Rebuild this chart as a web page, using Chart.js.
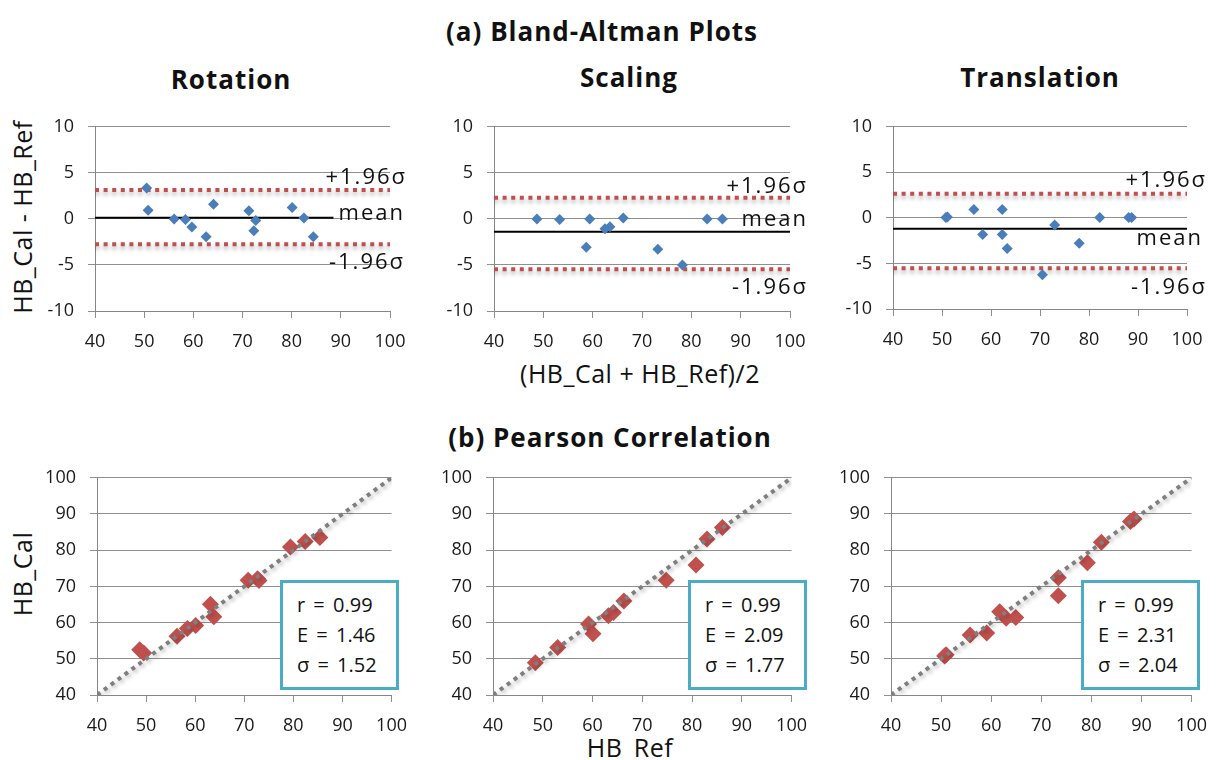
<!DOCTYPE html>
<html>
<head>
<meta charset="utf-8">
<title>HB agreement</title>
<script src="https://cdn.jsdelivr.net/npm/chart.js@4.4.1/dist/chart.umd.min.js"></script>
<style>
  body { margin: 0; width: 1220px; height: 760px; background: #fff; position: relative; overflow: hidden;
         font-family: "Open Sans", "Noto Sans", sans-serif; color: #111; }
  canvas { position: absolute; }
  .txt { position: absolute; transform: translate(-50%, -50%); white-space: nowrap; line-height: 1;
         font-size: 25px; letter-spacing: 0.5px; }
  .bold { font-weight: bold; font-size: 26px; letter-spacing: 1px; }
  .rot { transform: translate(-50%, -50%) rotate(-90deg); }
  .clip { position: absolute; overflow: hidden; }
  .clip div { text-align: center; font-size: 25px; line-height: 25px; letter-spacing: 0.5px; white-space: nowrap; }
  .stats { position: absolute; box-sizing: border-box; width: 119px; height: 110px; border: 3px solid #4bacc6;
           background: #fff; padding: 7px 0 0 14px; font-size: 20px; line-height: 30px; word-spacing: 3px; }
</style>
</head>
<body>

<div class="txt bold" style="left:602px; top:31px">(a) Bland-Altman Plots</div>
<div class="txt bold" style="left:231px; top:79px">Rotation</div>
<div class="txt bold" style="left:629px; top:77px">Scaling</div>
<div class="txt bold" style="left:1040px; top:77px">Translation</div>
<div class="txt rot" style="left:22px; top:217px">HB_Cal - HB_Ref</div>
<div class="txt" style="left:640px; top:373px">(HB_Cal + HB_Ref)/2</div>

<div class="txt bold" style="left:610px; top:437px">(b) Pearson Correlation</div>
<div class="txt rot" style="left:22px; top:574px">HB_Cal</div>
<!-- bottom axis title runs off the page edge, the underscore falls below the cut -->
<div class="clip" style="left:560px; top:735px; width:140px; height:22px"><div>HB_Ref</div></div>

<canvas id="ba1" width="390" height="258" style="left:30px; top:102px"></canvas>
<canvas id="ba2" width="395" height="258" style="left:425px; top:102px"></canvas>
<canvas id="ba3" width="395" height="258" style="left:825px; top:102px"></canvas>
<canvas id="pc1" width="390" height="292" style="left:30px; top:453px"></canvas>
<canvas id="pc2" width="395" height="292" style="left:425px; top:453px"></canvas>
<canvas id="pc3" width="395" height="292" style="left:825px; top:453px"></canvas>

<div class="stats" id="st1" style="left:280px; top:580px"></div>
<div class="stats" id="st2" style="left:688px; top:580px"></div>
<div class="stats" id="st3" style="left:1081px; top:580px"></div>

<script>
// axis ticks
const hbTicks = [40, 50, 60, 70, 80, 90, 100];
const diffTicks = [-10, -5, 0, 5, 10];

// Bland-Altman: average of the two readings and their difference
const rotAvg  = [50.5, 50.8, 56.1, 58.4, 59.7, 62.6, 64.1, 71.3, 72.7, 72.3, 80.1, 82.5, 84.4];
const rotDiff = [3.35, 0.95, 0, -0.07, -0.88, -1.94, 1.58, 0.88, -0.18, -1.3, 1.23, 0.1, -1.94];
const sclAvg  = [48.7, 53.3, 59.4, 58.7, 62.5, 63.5, 66.2, 73.2, 78.2, 83.2, 86.3];
const sclDiff = [0, -0.07, 0, -3.07, -1.07, -0.86, 0.1, -3.3, -5.0, 0, 0];
const trnAvg  = [50.8, 51.1, 56.5, 58.3, 62.3, 62.3, 63.3, 70.5, 73.0, 78.0, 82.2, 88.1, 88.7];
const trnDiff = [0.05, 0.1, 0.93, -1.82, 0.93, -1.82, -3.36, -6.25, -0.79, -2.79, 0.04, 0.04, 0.04];

// bias line and +/-1.96 sigma limits: [mean, upper, lower]
const rotLimits = [0.12, 3.15, -2.75];
const sclLimits = [-1.39, 2.29, -5.46];
const trnLimits = [-1.18, 2.64, -5.54];
const rotMeanEnd = 88.5;

// Pearson: reference vs calculated HB
const rotRef = [48.7, 49.5, 56.3, 58.4, 60.1, 63.1, 63.8, 70.8, 72.7, 73.0, 79.4, 82.4, 85.4];
const rotCal = [52.5, 51.6, 56.2, 58.4, 59.2, 65.1, 61.6, 71.7, 72.1, 71.6, 80.9, 82.4, 83.5];
const sclRef = [48.5, 53.0, 59.2, 60.1, 63.2, 64.2, 66.3, 74.8, 80.8, 83.0, 86.1];
const sclCal = [48.9, 53.1, 59.6, 56.9, 61.9, 62.8, 66.0, 71.7, 75.9, 83.1, 86.3];
const trnRef = [50.7, 51.0, 55.8, 59.1, 61.7, 63.0, 64.9, 73.4, 73.4, 79.2, 82.0, 87.8, 88.5];
const trnCal = [50.8, 51.1, 56.6, 57.1, 63.0, 61.2, 61.4, 72.4, 67.4, 76.5, 82.2, 87.9, 88.6];

const rotStats = ['r = 0.99', 'E = 1.46', 'σ = 1.52'];
const sclStats = ['r = 0.99', 'E = 2.09', 'σ = 1.77'];
const trnStats = ['r = 0.99', 'E = 2.31', 'σ = 2.04'];

const FONT = '"Open Sans", "Noto Sans", sans-serif';
const gridCol = '#8f8f8f';
const axisCol = '#868686';

const pts = (xs, ys) => xs.map((x, i) => ({ x: x, y: ys[i] }));

// blurred drop shadow under the dotted reference lines
const softShadow = {
  id: 'softShadow',
  beforeDatasetDraw(chart, args) {
    const ds = chart.data.datasets[args.index];
    if (!ds.shadow) return;
    const ctx = chart.ctx;
    ctx.save();
    ctx.shadowColor = 'rgba(0,0,0,0.33)';
    ctx.shadowBlur = 4;
    ctx.shadowOffsetX = ds.shadow[0];
    ctx.shadowOffsetY = ds.shadow[1];
  },
  afterDatasetDraw(chart, args) {
    if (chart.data.datasets[args.index].shadow) chart.ctx.restore();
  }
};

// "+1.96σ" / "mean" / "-1.96σ" captions next to the lines
const limitTags = {
  id: 'limitTags',
  afterDatasetsDraw(chart, args, opts) {
    if (!opts.tags) return;
    const { ctx, chartArea, scales } = chart;
    ctx.save();
    ctx.font = '22px ' + FONT;
    ctx.letterSpacing = '2px';
    ctx.fillStyle = '#111';
    ctx.textAlign = 'right';
    ctx.textBaseline = 'middle';
    opts.tags.forEach(t => {
      ctx.fillText(t.text, chartArea.right + t.dx, scales.y.getPixelForValue(t.value) + t.dy);
    });
    ctx.restore();
  }
};

// frame = canvas [x, y, w, h], area = wanted plot box [left, top, right, bottom], both in page pixels
function makeChart(id, frame, area, datasets, yTicks, tags) {
  const el = document.getElementById(id);
  const tickFont = { family: FONT, size: 18 };
  return new Chart(el, {
    type: 'scatter',
    data: { datasets: datasets },
    plugins: [softShadow, limitTags],
    options: {
      responsive: false,
      animation: false,
      layout: { padding: { left: 0, top: area[1] - frame[1], right: frame[0] + frame[2] - area[2], bottom: 0 } },
      plugins: { legend: { display: false }, tooltip: { enabled: false }, limitTags: { tags: tags } },
      scales: {
        x: {
          type: 'linear', min: hbTicks[0], max: hbTicks[hbTicks.length - 1],
          afterBuildTicks: s => { s.ticks = hbTicks.map(v => ({ value: v })); },
          afterFit: s => { s.height = frame[1] + frame[3] - area[3]; },
          grid: { drawOnChartArea: false, drawTicks: true, tickLength: 7, color: gridCol },
          border: { color: axisCol, width: 1 },
          ticks: { padding: 13, color: '#1a1a1a', font: tickFont, maxRotation: 0 }
        },
        y: {
          type: 'linear', min: yTicks[0], max: yTicks[yTicks.length - 1],
          afterBuildTicks: s => { s.ticks = yTicks.map(v => ({ value: v })); },
          afterFit: s => { s.width = area[0] - frame[0]; },
          grid: { drawTicks: true, tickLength: 7, color: gridCol },
          border: { color: axisCol, width: 1 },
          ticks: { padding: 14, color: '#1a1a1a', font: tickFont }
        }
      }
    }
  });
}

function baSets(avg, diff, lim, meanEnd) {
  const dotted = { showLine: true, pointRadius: 0, borderColor: '#c0504d', borderWidth: 4,
                   borderDash: [4, 4.6], shadow: [0, 3], order: 2 };
  return [
    { data: pts(avg, diff), pointStyle: 'rectRot', pointRadius: 5.5, backgroundColor: '#4a7ebb',
      borderWidth: 0, order: 0 },
    Object.assign({ data: [{ x: 40, y: lim[1] }, { x: 100, y: lim[1] }] }, dotted),
    Object.assign({ data: [{ x: 40, y: lim[2] }, { x: 100, y: lim[2] }] }, dotted),
    { data: [{ x: 40, y: lim[0] }, { x: meanEnd, y: lim[0] }], showLine: true, pointRadius: 0,
      borderColor: '#000', borderWidth: 2, order: 1 }
  ];
}

function pcSets(ref, cal) {
  return [
    { data: [{ x: 40, y: 40 }, { x: 100, y: 100 }], showLine: true, pointRadius: 0, borderColor: '#7f7f7f',
      borderWidth: 4, borderDash: [4, 4.6], shadow: [2, 2], order: 0 },
    { data: pts(ref, cal), pointStyle: 'rectRot', pointRadius: 8.5, backgroundColor: '#c0504d',
      borderWidth: 0, order: 1 }
  ];
}

const tagsFor = (lim, d) => [
  { text: '+1.96σ', value: lim[1], dx: d[0][0], dy: d[0][1] },
  { text: 'mean',   value: lim[0], dx: d[1][0], dy: d[1][1] },
  { text: '-1.96σ', value: lim[2], dx: d[2][0], dy: d[2][1] }
];

makeChart('ba1', [30, 102, 390, 258], [95, 125, 390, 311], baSets(rotAvg, rotDiff, rotLimits, rotMeanEnd),
          diffTicks, tagsFor(rotLimits, [[17, -12], [15, -4], [15, 19]]));
makeChart('ba2', [425, 102, 395, 258], [494, 124, 790, 311], baSets(sclAvg, sclDiff, sclLimits, 100),
          diffTicks, tagsFor(sclLimits, [[18, -11], [18, -12], [18, 19]]));
makeChart('ba3', [825, 102, 395, 258], [893, 123, 1187, 309], baSets(trnAvg, trnDiff, trnLimits, 100),
          diffTicks, tagsFor(trnLimits, [[20, -13], [16, 10], [20, 19]]));

makeChart('pc1', [30, 453, 390, 292], [97, 476, 395, 695], pcSets(rotRef, rotCal), hbTicks, null);
makeChart('pc2', [425, 453, 395, 292], [493, 476, 796, 695], pcSets(sclRef, sclCal), hbTicks, null);
makeChart('pc3', [825, 453, 395, 292], [891, 476, 1194, 695], pcSets(trnRef, trnCal), hbTicks, null);

[['st1', rotStats], ['st2', sclStats], ['st3', trnStats]].forEach(([id, lines]) => {
  document.getElementById(id).innerHTML = lines.map(l => '<div>' + l + '</div>').join('');
});
</script>
</body>
</html>
